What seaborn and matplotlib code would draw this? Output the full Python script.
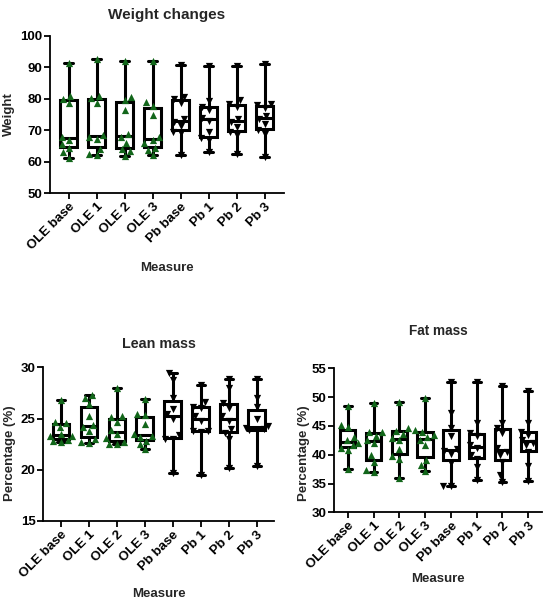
import matplotlib
matplotlib.use("Agg")
import matplotlib.pyplot as plt
import seaborn as sns
import pandas as pd
import numpy as np

# ---------------- data ----------------
categories = ["OLE base", "OLE 1", "OLE 2", "OLE 3", "Pb base", "Pb 1", "Pb 2", "Pb 3"]
ole_groups = ["OLE base", "OLE 1", "OLE 2", "OLE 3"]
pb_groups = ["Pb base", "Pb 1", "Pb 2", "Pb 3"]

weight_ole_base = [61.3, 63.0, 64.5, 65.5, 67.0, 68.0, 78.5, 80.0, 81.0, 91.3]
weight_ole_1 = [62.0, 62.5, 64.0, 67.2, 67.8, 68.6, 78.8, 80.2, 81.0, 92.5]
weight_ole_2 = [61.8, 63.5, 64.0, 66.0, 67.8, 68.8, 76.5, 79.6, 80.6, 92.0]
weight_ole_3 = [62.0, 63.8, 64.5, 65.8, 66.8, 67.8, 75.0, 77.7, 79.0, 92.0]
weight_pb_base = [62.0, 69.0, 69.5, 71.5, 72.5, 73.5, 78.5, 79.8, 80.5, 90.8]
weight_pb_1 = [63.0, 66.8, 67.5, 69.5, 73.0, 74.0, 76.5, 77.5, 79.2, 90.5]
weight_pb_2 = [62.5, 68.5, 69.5, 71.0, 72.5, 73.5, 77.5, 78.2, 79.5, 90.5]
weight_pb_3 = [61.5, 68.8, 70.0, 72.0, 73.5, 74.5, 77.2, 78.0, 78.3, 91.0]

lean_ole_base = [22.7, 22.8, 22.9, 23.3, 23.3, 23.5, 24.2, 24.6, 24.7, 26.8]
lean_ole_1 = [22.6, 22.7, 23.0, 23.8, 24.2, 24.4, 25.2, 26.4, 27.0, 27.3]
lean_ole_2 = [22.5, 22.5, 22.7, 23.1, 23.5, 23.9, 24.7, 25.1, 25.2, 28.0]
lean_ole_3 = [22.0, 22.5, 22.8, 23.2, 23.3, 23.5, 24.5, 25.3, 25.4, 26.9]
lean_pb_base = [19.7, 23.0, 23.0, 23.4, 25.0, 25.4, 25.9, 27.0, 28.8, 29.4]
lean_pb_1 = [19.5, 23.7, 23.8, 23.8, 24.8, 25.2, 26.0, 26.15, 26.6, 28.3]
lean_pb_2 = [20.2, 23.0, 23.6, 24.0, 24.8, 25.2, 26.0, 26.5, 28.0, 28.9]
lean_pb_3 = [20.4, 23.8, 23.9, 24.0, 24.1, 24.3, 25.0, 26.1, 27.0, 28.9]

fat_ole_base = [37.6, 40.8, 41.2, 41.7, 42.0, 42.5, 43.0, 44.8, 45.2, 48.5]
fat_ole_1 = [37.0, 37.3, 38.8, 40.0, 42.0, 42.6, 43.2, 43.9, 44.0, 49.0]
fat_ole_2 = [36.0, 39.3, 39.8, 41.0, 42.5, 42.9, 43.6, 44.2, 44.6, 49.2]
fat_ole_3 = [37.2, 38.2, 39.0, 41.6, 42.5, 43.0, 43.5, 44.0, 44.3, 49.9]
fat_pb_base = [34.5, 34.6, 38.6, 40.2, 40.6, 41.0, 43.2, 44.7, 47.3, 52.7]
fat_pb_1 = [35.6, 37.8, 39.2, 40.0, 41.2, 41.6, 43.2, 43.8, 45.5, 52.7]
fat_pb_2 = [35.3, 36.5, 38.8, 40.0, 40.5, 41.1, 43.8, 44.6, 45.5, 52.0]
fat_pb_3 = [35.5, 38.0, 40.4, 41.6, 42.0, 42.6, 43.5, 44.0, 45.5, 51.0]

weight_series = [weight_ole_base, weight_ole_1, weight_ole_2, weight_ole_3,
                 weight_pb_base, weight_pb_1, weight_pb_2, weight_pb_3]
lean_series = [lean_ole_base, lean_ole_1, lean_ole_2, lean_ole_3,
               lean_pb_base, lean_pb_1, lean_pb_2, lean_pb_3]
fat_series = [fat_ole_base, fat_ole_1, fat_ole_2, fat_ole_3,
              fat_pb_base, fat_pb_1, fat_pb_2, fat_pb_3]


def long_df(series):
    rows = []
    for cat, vals in zip(categories, series):
        for v in vals:
            rows.append({"measure": cat, "value": v})
    return pd.DataFrame(rows)


# ---------------- style ----------------
sns.set_theme(style="ticks")
plt.rcParams["font.family"] = ["Liberation Sans", "DejaVu Sans"]
plt.rcParams["font.weight"] = "bold"
plt.rcParams["axes.labelweight"] = "bold"
plt.rcParams["axes.titleweight"] = "bold"
plt.rcParams["axes.linewidth"] = 1.3
plt.rcParams["xtick.major.width"] = 1.3
plt.rcParams["ytick.major.width"] = 1.3
plt.rcParams["xtick.major.size"] = 4
plt.rcParams["ytick.major.size"] = 4

GREEN = "#12661a"
TICK_FS = 9.5

fig = plt.figure(figsize=(5.5, 6.02), dpi=100)

panels = [
    dict(series=weight_series, rect=[0.0900, 0.6789, 0.4257, 0.2618],
         ylim=(50, 100), yticks=[50, 60, 70, 80, 90, 100], xoff=0.68,
         title="Weight changes", tsize=11, tpad=12, ylabel="Weight",
         ylab_xy=(-0.146, 0.5), xlab_y=-0.436),
    dict(series=lean_series, rect=[0.0787, 0.1346, 0.4202, 0.2553],
         ylim=(15, 30), yticks=[15, 20, 25, 30], xoff=0.633,
         title="Lean mass", tsize=10.3, tpad=14, ylabel="Percentage (%)",
         ylab_xy=(-0.118, 0.442), xlab_y=-0.436),
    dict(series=fat_series, rect=[0.6078, 0.149, 0.3771, 0.2392],
         ylim=(30, 55), yticks=[30, 35, 40, 45, 50, 55], xoff=0.52,
         title="Fat mass", tsize=9.8, tpad=24, ylabel="Percentage (%)",
         ylab_xy=(-0.1157, 0.41), xlab_y=-0.4215),
]

for p in panels:
    ax = fig.add_axes(p["rect"])
    df = long_df(p["series"])
    sns.boxplot(data=df, x="measure", y="value", order=categories,
                whis=(0, 100), width=0.6, color="white", linecolor="black",
                linewidth=2.2, fliersize=0, ax=ax, zorder=2)
    sns.swarmplot(data=df[df["measure"].isin(ole_groups)], x="measure", y="value",
                  order=categories, color=GREEN, marker="^", size=5.2,
                  linewidth=0, ax=ax, zorder=3)
    sns.swarmplot(data=df[df["measure"].isin(pb_groups)], x="measure", y="value",
                  order=categories, color="black", marker="v", size=5.2,
                  linewidth=0, ax=ax, zorder=3)
    ax.set_xlim(-p["xoff"], len(categories) - 1 + p["xoff"])
    ax.set_ylim(*p["ylim"])
    ax.set_yticks(p["yticks"])
    ax.set_xticks(range(len(categories)))
    ax.set_xticklabels(categories, rotation=45, ha="right",
                       rotation_mode="anchor", fontsize=TICK_FS, fontweight="bold")
    for lab in ax.get_yticklabels():
        lab.set_fontsize(TICK_FS)
        lab.set_fontweight("bold")
    ax.tick_params(axis="both", pad=1.5, colors="black")
    ax.set_title(p["title"], fontsize=p["tsize"], fontweight="bold", pad=p["tpad"])
    ax.set_xlabel("Measure", fontsize=9.5, fontweight="bold")
    ax.xaxis.set_label_coords(0.5, p["xlab_y"])
    ax.set_ylabel(p["ylabel"], fontsize=9.5, fontweight="bold")
    ax.yaxis.set_label_coords(*p["ylab_xy"])
    sns.despine(ax=ax)
    for s in ax.spines.values():
        s.set_color("black")

fig.savefig("out.png", dpi=100)
